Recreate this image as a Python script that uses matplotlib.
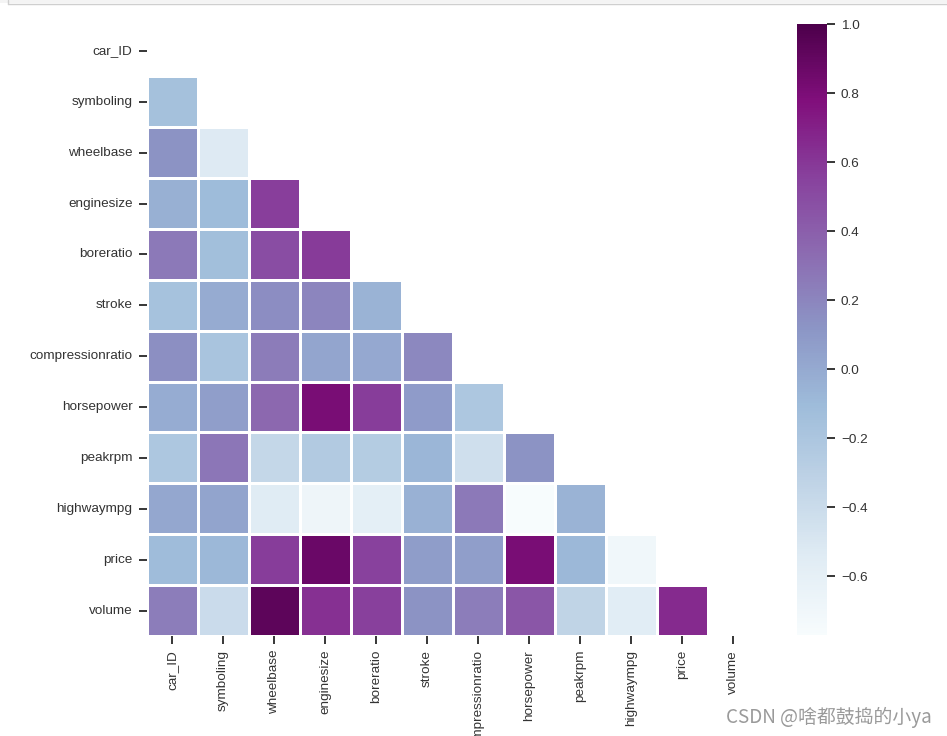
import numpy as np
import pandas as pd
import matplotlib
matplotlib.use("Agg")
import matplotlib.pyplot as plt
from matplotlib.lines import Line2D
import seaborn as sns

labels = ["car_ID", "symboling", "wheelbase", "enginesize", "boreratio", "stroke",
          "compressionratio", "horsepower", "peakrpm", "highwaympg", "price", "volume"]

# lower-triangle correlation values, row by row (row i has i values)
row_symboling = [-0.152]
row_wheelbase = [0.130, -0.532]
row_enginesize = [-0.034, -0.106, 0.569]
row_boreratio = [0.260, -0.130, 0.489, 0.584]
row_stroke = [-0.161, -0.009, 0.161, 0.203, -0.056]
row_compressionratio = [0.150, -0.179, 0.250, 0.029, 0.005, 0.186]
row_horsepower = [-0.015, 0.071, 0.353, 0.810, 0.574, 0.081, -0.204]
row_peakrpm = [-0.204, 0.274, -0.360, -0.245, -0.255, -0.068, -0.436, 0.131]
row_highwaympg = [0.011, 0.035, -0.544, -0.677, -0.587, -0.044, 0.265, -0.771, -0.054]
row_price = [-0.109, -0.080, 0.578, 0.874, 0.553, 0.079, 0.068, 0.808, -0.085, -0.698]
row_volume = [0.245, -0.400, 0.930, 0.630, 0.560, 0.130, 0.245, 0.440, -0.330, -0.560, 0.660]

rows = [[], row_symboling, row_wheelbase, row_enginesize, row_boreratio, row_stroke,
        row_compressionratio, row_horsepower, row_peakrpm, row_highwaympg, row_price, row_volume]

n = len(labels)
mat = np.eye(n)
for i, r in enumerate(rows):
    for j, v in enumerate(r):
        mat[i, j] = v
        mat[j, i] = v
corr = pd.DataFrame(mat, index=labels, columns=labels)
mask = np.triu(np.ones_like(mat, dtype=bool))

sns.set_theme(style="ticks")
plt.rcParams['font.family'] = ['Liberation Sans', 'DejaVu Sans']
plt.rcParams['text.color'] = '#333333'
plt.rcParams['xtick.color'] = '#262626'
plt.rcParams['ytick.color'] = '#262626'
plt.rcParams['xtick.labelcolor'] = '#333333'
plt.rcParams['ytick.labelcolor'] = '#333333'

W, H = 947, 736
fig = plt.figure(figsize=(W / 100, H / 100), dpi=100)
ax = fig.add_axes([146.5 / W, 1 - 636 / H, 612 / W, 610.5 / H])
cax = fig.add_axes([797 / W, 1 - 635 / H, 30 / W, 611 / H])

sns.heatmap(corr, mask=mask, cmap="BuPu", vmax=1, linewidths=1, linecolor="white",
            ax=ax, cbar_ax=cax, square=False)

ax.set_xlabel("")
ax.set_ylabel("")
ax.tick_params(axis="both", length=6, width=1.3, pad=4, labelsize=9.7)
ax.set_xticklabels(labels, rotation=90)
ax.set_yticklabels(labels, rotation=0)
cax.tick_params(length=6, width=1.3, pad=4, labelsize=9.7)
cax.set_yticks([1.0, 0.8, 0.6, 0.4, 0.2, 0.0, -0.2, -0.4, -0.6])
for s in cax.spines.values():
    s.set_visible(False)

# notebook cell border at the top
fig.patches.append(plt.Rectangle((0, 1 - 3 / H), 1, 3 / H, transform=fig.transFigure,
                                 facecolor="#f4f4f4", edgecolor="none", zorder=0))
fig.add_artist(Line2D([8 / W, 1], [1 - 3.5 / H, 1 - 3.5 / H], color="#cfcfcf", lw=1))
fig.add_artist(Line2D([8 / W, 8 / W], [1, 1 - 3.5 / H], color="#cfcfcf", lw=1))

fig.text(932 / W, 1 - 717 / H, "CSDN @啥都鼓捣的小ya", ha="right", va="center",
         fontsize=13.6, color="#9a9a9a",
         family=["Noto Sans CJK SC", "DejaVu Sans"])

fig.savefig("out.png", dpi=100)
